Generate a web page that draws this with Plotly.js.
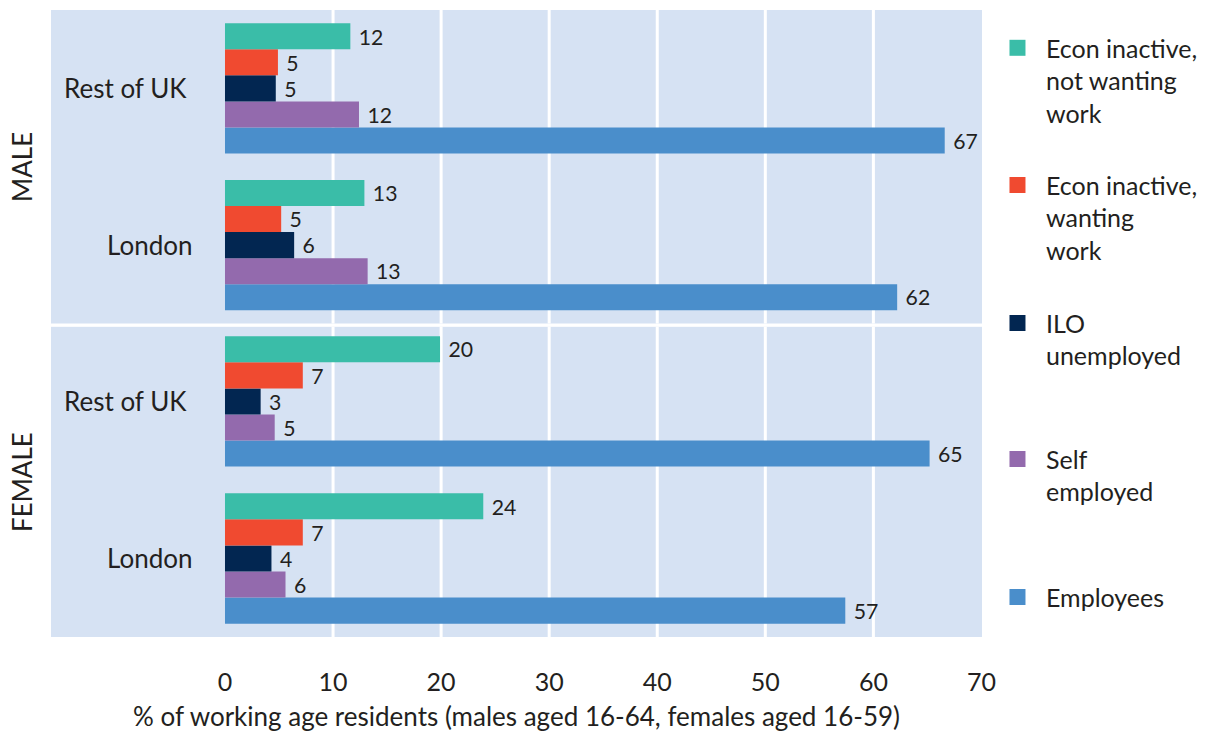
<!DOCTYPE html>
<html>
<head>
<meta charset="utf-8">
<script src="https://cdn.plot.ly/plotly-3.0.1.min.js"></script>
<style>html,body{margin:0;padding:0;background:#fff;}#chart{width:1214px;height:735px;}</style>
</head>
<body>
<div id="chart"></div>
<script>
// Categories (bottom to top within each panel)
const categories = ['London', 'Rest of UK'];

// Series names (legend labels)
const seriesNames = [
  'Employees',
  'Self<br>employed',
  'ILO<br>unemployed',
  'Econ inactive,<br>wanting<br>work',
  'Econ inactive,<br>not wanting<br>work'
];
const seriesColors = ['#4A8ECB', '#936AAD', '#022651', '#F04A30', '#3ABDA8'];

// MALE values [London, Rest of UK]
const maleEmployees   = [62.2, 66.6];
const maleSelfEmp     = [13.2, 12.4];
const maleILO         = [6.4, 4.7];
const maleWanting     = [5.2, 4.9];
const maleNotWanting  = [12.9, 11.6];

// FEMALE values [London, Rest of UK]
const femaleEmployees  = [57.4, 65.2];
const femaleSelfEmp    = [5.6, 4.6];
const femaleILO        = [4.3, 3.3];
const femaleWanting    = [7.2, 7.2];
const femaleNotWanting = [23.9, 19.9];

// Axis ticks and grid
const xTicks = [0, 10, 20, 30, 40, 50, 60, 70];
const gridVals = [10, 20, 30, 40, 50, 60];
const panelLabels = ['MALE', 'FEMALE'];

const FONT = 'Lato, "Open Sans", sans-serif';
const TXT = '#231F20';

const maleSeries = [maleEmployees, maleSelfEmp, maleILO, maleWanting, maleNotWanting];
const femaleSeries = [femaleEmployees, femaleSelfEmp, femaleILO, femaleWanting, femaleNotWanting];

const traces = [];
function addBars(series, yaxis) {
  series.forEach((vals, i) => {
    traces.push({
      type: 'bar', orientation: 'h',
      x: vals, y: categories,
      xaxis: 'x', yaxis: yaxis,
      marker: {color: seriesColors[i], line: {width: 0}},
      texttemplate: '\u00a0%{x:.0f}',
      textposition: 'outside',
      cliponaxis: false,
      textfont: {family: FONT, size: 22, color: TXT},
      hoverinfo: 'skip',
      showlegend: false
    });
  });
}
addBars(femaleSeries, 'y');
addBars(maleSeries, 'y2');

// Legend entries (separate legends so each item sits at even spacing)
const legendIds = ['legend5', 'legend4', 'legend3', 'legend2', 'legend'];
seriesNames.forEach((name, i) => {
  traces.push({
    type: 'scatter', mode: 'markers',
    x: [null], y: [null], xaxis: 'x', yaxis: 'y',
    name: name,
    marker: {symbol: 'square', size: 16, color: seriesColors[i]},
    legend: legendIds[i],
    showlegend: true, hoverinfo: 'skip', cliponaxis: true
  });
});

const legendTops = [0.976, 0.757, 0.537, 0.320, 0.100];
function legendCfg(y) {
  return {
    x: 1.0075, xanchor: 'left', y: y, yanchor: 'top',
    bgcolor: 'rgba(0,0,0,0)', borderwidth: 0,
    font: {family: FONT, size: 25, color: TXT},
    itemwidth: 47, valign: 'top', tracegroupgap: 0,
    itemclick: false, itemdoubleclick: false
  };
}

const shapes = [];
['y domain', 'y2 domain'].forEach(yr => {
  gridVals.forEach(v => {
    shapes.push({type: 'line', xref: 'x', yref: yr, x0: v, x1: v, y0: 0, y1: 1,
      line: {color: '#FFFFFF', width: 3}, layer: 'below'});
  });
});

const annotations = [];
['y', 'y2'].forEach(ya => {
  categories.forEach(c => {
    annotations.push({xref: 'x', yref: ya, x: c === 'London' ? -2.9 : -3.3, y: c, text: c, showarrow: false,
      xanchor: 'right', yanchor: 'middle', font: {family: FONT, size: 26, color: TXT}});
  });
});
annotations.push({xref: 'paper', yref: 'y2 domain', x: -0.031, y: 0.5, text: panelLabels[0],
  textangle: -90, showarrow: false, xanchor: 'center', yanchor: 'middle',
  font: {family: FONT, size: 26, color: TXT}});
annotations.push({xref: 'paper', yref: 'y domain', x: -0.031, y: 0.5, text: panelLabels[1],
  textangle: -90, showarrow: false, xanchor: 'center', yanchor: 'middle',
  font: {family: FONT, size: 26, color: TXT}});

const layout = {
  width: 1214, height: 735,
  margin: {l: 51, r: 232, t: 10, b: 98},
  paper_bgcolor: '#FFFFFF',
  plot_bgcolor: '#D6E2F3',
  barmode: 'group', bargap: 0.17, bargroupgap: 0,
  font: {family: FONT, color: TXT},
  xaxis: {
    domain: [0, 1], range: [-16.1, 70.05], anchor: 'y',
    tickvals: xTicks, ticktext: xTicks.map(String),
    showgrid: false, zeroline: false, showline: false, ticks: '',
    ticklabelstandoff: 28,
    tickfont: {family: FONT, size: 25, color: TXT},
    title: {text: '% of working age residents (males aged 16-64, females aged 16-59)',
      font: {family: FONT, size: 26, color: TXT}, standoff: 12},
    automargin: false, fixedrange: true
  },
  yaxis: {
    domain: [0, 0.4947], range: [-0.5, 1.475], type: 'category',
    categoryorder: 'array', categoryarray: categories,
    showticklabels: false, showgrid: false, zeroline: false, showline: false, ticks: '',
    fixedrange: true, anchor: 'x'
  },
  yaxis2: {
    domain: [0.5, 1], range: [-0.5, 1.5], type: 'category',
    categoryorder: 'array', categoryarray: categories,
    showticklabels: false, showgrid: false, zeroline: false, showline: false, ticks: '',
    fixedrange: true, anchor: 'x'
  },
  legend: legendCfg(legendTops[0]),
  legend2: legendCfg(legendTops[1]),
  legend3: legendCfg(legendTops[2]),
  legend4: legendCfg(legendTops[3]),
  legend5: legendCfg(legendTops[4]),
  shapes: shapes,
  annotations: annotations,
  showlegend: true
};

Plotly.newPlot('chart', traces, layout, {displayModeBar: false, staticPlot: true});
</script>
</body>
</html>
